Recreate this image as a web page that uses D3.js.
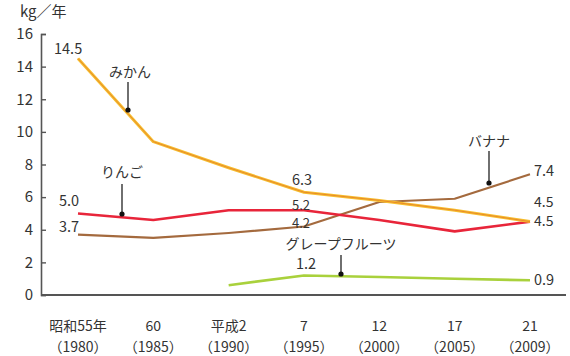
<!DOCTYPE html>
<html><head><meta charset="utf-8">
<script src="https://cdn.jsdelivr.net/npm/d3@7"></script>
<style>body{margin:0;background:#fff}svg{display:block}text{font-family:"Noto Sans CJK JP","DejaVu Sans",sans-serif}</style>
</head><body><svg id="c" width="570" height="356"></svg>
<script>
const categories = ["1980","1985","1990","1995","2000","2005","2009"];
const labelTop = ["昭和55年","60","平成2","7","12","17","21"];
const labelBottom = ["（1980）","（1985）","（1990）","（1995）","（2000）","（2005）","（2009）"];
const mikan = [14.5, 9.4, 7.8, 6.3, 5.8, 5.2, 4.5];
const ringo = [5.0, 4.6, 5.2, 5.2, 4.6, 3.9, 4.5];
const banana = [3.7, 3.5, 3.8, 4.2, 5.7, 5.9, 7.4];
const grapefruit = [null, null, 0.6, 1.2, 1.1, 1.0, 0.9];
const yTicks = [0,2,4,6,8,10,12,14,16];

const svg = d3.select("#c");
const x = d3.scalePoint().domain(categories).range([78, 530]);
const y = d3.scaleLinear().domain([0,16]).range([295, 34]);
const numFont = "Liberation Sans, Arial, sans-serif";

// axes
const yAxis = d3.axisRight(y).tickValues(yTicks).tickSize(5).tickFormat(d3.format("d"));
const gy = svg.append("g").attr("transform","translate(41,0)").call(yAxis);
gy.select(".domain").attr("stroke","#555").attr("stroke-width",1.6);
gy.selectAll(".tick line").attr("stroke","#555").attr("stroke-width",1.4);
gy.selectAll(".tick text").attr("x",-8).attr("text-anchor","end").attr("font-size",15).attr("fill","#333").attr("font-family",numFont);
svg.append("line").attr("x1",41).attr("x2",566).attr("y1",y(0)).attr("y2",y(0)).attr("stroke","#555").attr("stroke-width",2);

svg.append("text").attr("x",20).attr("y",17).attr("font-size",15).attr("fill","#333").text("kg／年");

// x labels
categories.forEach((c,i)=>{
  svg.append("text").attr("x",x(c)).attr("y",331).attr("text-anchor","middle").attr("font-size",14).attr("fill","#333").text(labelTop[i]);
  svg.append("text").attr("x",x(c)).attr("y",352).attr("text-anchor","middle").attr("font-size",14).attr("fill","#333").text(labelBottom[i]);
});

const line = d3.line().defined(d=>d.v!=null).x(d=>x(d.c)).y(d=>y(d.v));
function draw(vals, color, w, inner){
  const data = vals.map((v,i)=>({c:categories[i], v}));
  svg.append("path").datum(data).attr("d",line).attr("fill","none").attr("stroke",color).attr("stroke-width",w).attr("stroke-linejoin","round");
  if(inner) svg.append("path").datum(data).attr("d",line).attr("fill","none").attr("stroke",inner).attr("stroke-width",1).attr("stroke-linejoin","round");
}
draw(grapefruit, "#a9d13c", 2.6);
draw(banana, "#a46a3e", 2.2);
draw(ringo, "#e8253a", 2.6);
draw(mikan, "#f6be2e", 3, "#e98a2a");

// value labels
const vt = (px,py,t,fs)=>svg.append("text").attr("x",px).attr("y",py).attr("font-size",fs||14.5).attr("fill","#333").attr("font-family",numFont).text(t);
vt(x("1980")-24, y(mikan[0])-4, "14.5");
vt(x("1980")-19, y(ringo[0])-7, "5.0");
vt(x("1980")-19, y(banana[0])-3, "3.7");
vt(x("1995")-12, y(mikan[3])-7, "6.3");
vt(x("1995")-12, y(ringo[3])+0, "5.2", 13);
vt(x("1995")-12, y(banana[3])+1.5, "4.2", 13);
vt(x("1995")-8, y(grapefruit[3])-6, "1.2");
vt(x("2009")+4, y(banana[6])+2, "7.4");
vt(x("2009")+4, y(mikan[6])-15, "4.5", 14);
vt(x("2009")+4, y(ringo[6])+4, "4.5", 14);
vt(x("2009")+4, y(grapefruit[6])+5, "0.9");

// series labels with arrows
function callout(t, tx, ty, ax, ay1, ay2){
  svg.append("text").attr("x",tx).attr("y",ty).attr("font-size",14).attr("fill","#333").attr("text-anchor","middle").text(t);
  svg.append("line").attr("x1",ax).attr("x2",ax).attr("y1",ay1).attr("y2",ay2).attr("stroke","#333").attr("stroke-width",1.4);
  svg.append("circle").attr("cx",ax).attr("cy",ay2).attr("r",2.6).attr("fill","#111");
}
callout("みかん", 130, 77, 128, 82, 110);
callout("りんご", 122, 177, 122, 184, 214);
callout("バナナ", 489, 146, 489, 151, 183);
callout("グレープフルーツ", 341, 249, 341, 255, 274);
</script></body></html>
